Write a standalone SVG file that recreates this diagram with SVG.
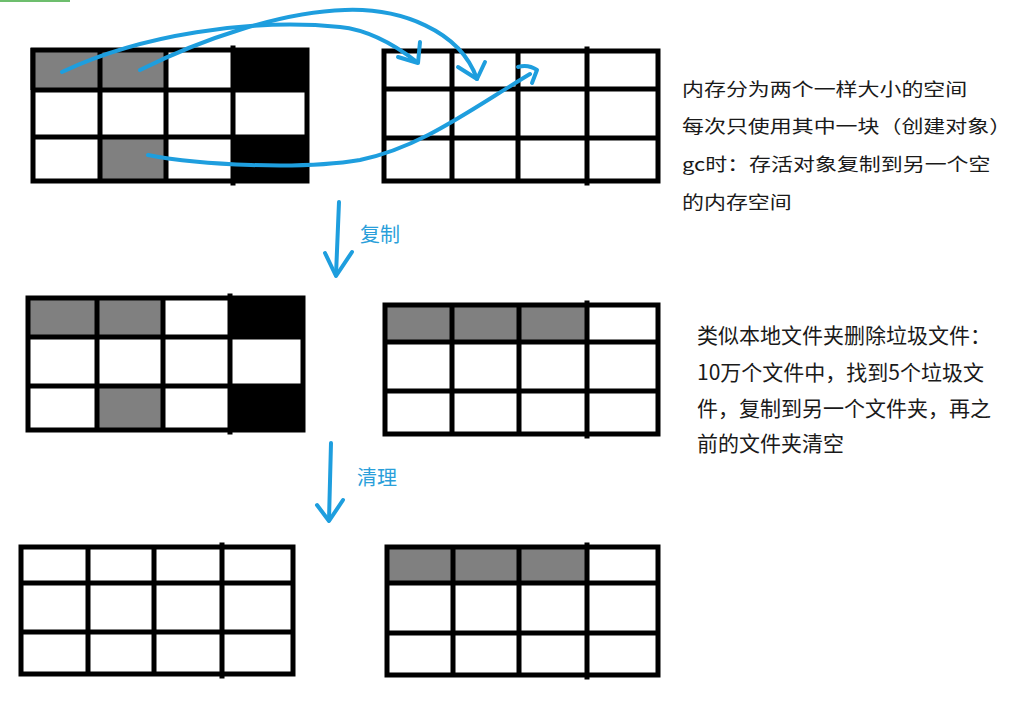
<svg xmlns="http://www.w3.org/2000/svg" width="1024" height="715" viewBox="0 0 1024 715">
<style>
.g{fill:#808080}
.k{fill:#000}
.ln{stroke:#000;stroke-width:5;fill:none;stroke-linecap:square}
.ar{stroke:#1E9EDE;stroke-width:4;fill:none;stroke-linecap:round;stroke-linejoin:round}
.t1{font-family:"Noto Sans CJK SC","Noto Sans",sans-serif;font-size:18px;fill:#1a1a1a}
.t2{font-family:"Noto Sans CJK SC","Noto Sans",sans-serif;font-size:21px;fill:#1a1a1a}
.lb{font-family:"Noto Sans CJK SC","Noto Sans",sans-serif;font-size:20px;fill:#2A9FDA}
</style>
<rect width="1024" height="715" fill="#fff"/>
<rect x="0" y="0" width="70" height="2" fill="#6DBE6D"/>

<g id="grid-top-left">
<rect class="g" x="30" y="48" width="70" height="42"/>
<rect class="g" x="100" y="48" width="66" height="42"/>
<rect class="k" x="233" y="48" width="76" height="42"/>
<rect class="g" x="100" y="137" width="66" height="46"/>
<rect class="k" x="233" y="137" width="76" height="46"/>
<path class="ln" d="M33,50H307V181H33Z M100,50V181 M166,50V181 M233,48V183 M33,90H307 M33,137H307"/>
</g>

<g id="grid-top-right">
<path class="ln" d="M384,51H658V181H384Z M452,51V181 M518,51V181 M587,49V183 M384,89H658 M384,138H658"/>
</g>

<g id="grid-mid-left">
<rect class="g" x="28" y="298" width="69" height="39"/>
<rect class="g" x="97" y="298" width="66" height="39"/>
<rect class="k" x="230" y="298" width="75" height="39"/>
<rect class="g" x="97" y="386" width="66" height="44"/>
<rect class="k" x="230" y="386" width="75" height="46"/>
<path class="ln" d="M28,298H303V430H28Z M97,298V430 M163,298V430 M230,296V432 M28,337H303 M28,386H303"/>
</g>

<g id="grid-mid-right">
<rect class="g" x="385" y="305" width="67" height="37"/>
<rect class="g" x="452" y="305" width="67" height="37"/>
<rect class="g" x="519" y="305" width="68" height="37"/>
<path class="ln" d="M385,305H658V434H385Z M452,305V434 M519,305V434 M587,303V436 M385,342H658 M385,391H658"/>
</g>

<g id="grid-bottom-left">
<path class="ln" d="M21,547H293V674H21Z M88,547V674 M154,547V674 M222,545V676 M21,583H293 M21,632H293"/>
</g>

<g id="grid-bottom-right">
<rect class="g" x="387" y="547" width="66" height="36"/>
<rect class="g" x="453" y="547" width="66" height="36"/>
<rect class="g" x="519" y="547" width="68" height="36"/>
<path class="ln" d="M387,547H658V675H387Z M453,547V675 M519,547V675 M587,545V677 M387,583H658 M387,633H658"/>
</g>

<g id="connectors">
<path class="ar" d="M62,72 C140,35 250,18 340,27 C370,30 395,45 417,62"/>
<path class="ar" d="M420,42 L418,63 L398,57"/>
<path class="ar" d="M140,70 C200,40 280,12 345,10 C400,8 460,30 477,79"/>
<path class="ar" d="M485,62 L477,79 L458,67"/>
<path class="ar" d="M148,155 C200,165 300,170 360,160 C420,148 470,110 530,74"/>
<path class="ar" d="M518,67 Q528,64 537,70 L532,83"/>
<path class="ar" d="M339,202 L336,275"/>
<path class="ar" d="M325,253 L336,276 L352,252"/>
<path class="ar" d="M331,443 L329,520"/>
<path class="ar" d="M317,505 L329,521 L343,500"/>
</g>

<g id="label-copy"><text class="lb" x="360" y="242">复制</text></g>
<g id="label-clean"><text class="lb" x="357" y="485">清理</text></g>

<g id="note-top">
<text class="t1" transform="translate(682,95.5) scale(1.22,1)">内存分为两个一样大小的空间</text>
<text class="t1" transform="translate(682,132.5) scale(1.22,1)">每次只使用其中一块（创建对象）</text>
<text class="t1" transform="translate(682,171) scale(1.22,1)">gc时：存活对象复制到另一个空</text>
<text class="t1" transform="translate(682,208.5) scale(1.22,1)">的内存空间</text>
</g>

<g id="note-bottom">
<text class="t2" x="697" y="343">类似本地文件夹删除垃圾文件：</text>
<text class="t2" x="697" y="380">10万个文件中，找到5个垃圾文</text>
<text class="t2" x="697" y="416">件，复制到另一个文件夹，再之</text>
<text class="t2" x="697" y="451">前的文件夹清空</text>
</g>
</svg>
